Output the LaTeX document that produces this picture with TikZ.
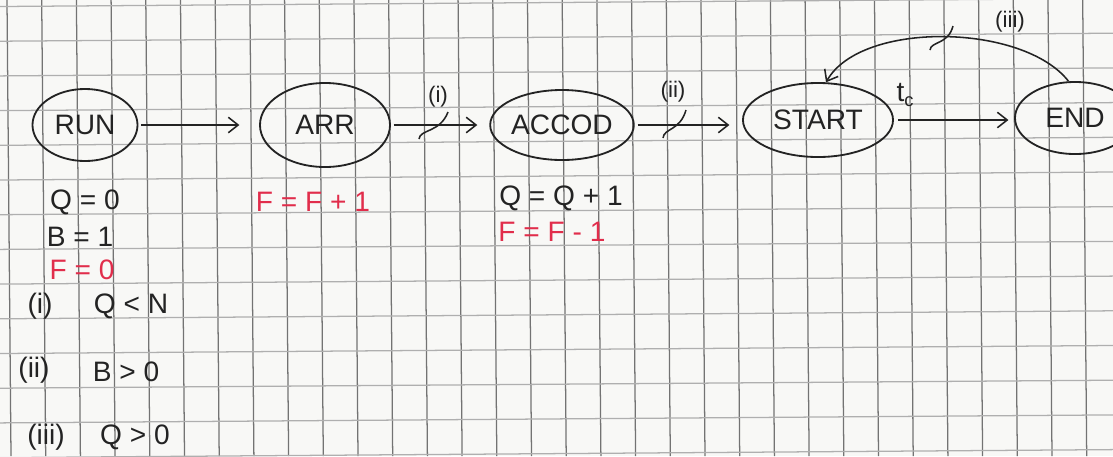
\documentclass[tikz,border=0pt]{standalone}
\usepackage{fontspec}
\setmainfont{Liberation Sans}
\usetikzlibrary{shapes.geometric,arrows.meta}
\definecolor{pen}{RGB}{35,35,35}
\definecolor{redpen}{RGB}{225,45,75}
\definecolor{gridv}{RGB}{115,115,115}
\definecolor{gridh}{RGB}{175,175,175}
\definecolor{paper}{RGB}{248,248,246}
\begin{document}
\begin{tikzpicture}[x=0.025cm,y=-0.025cm,
  state/.style={ellipse,draw=pen,line width=1.3pt,inner sep=0pt,font=\fontsize{20}{24}\selectfont,text=pen},
  arr/.style={draw=pen,line width=1.1pt,-{Straight Barb[length=7pt,width=11pt,line width=1.1pt]}},
  lbl/.style={font=\fontsize{20}{24}\selectfont,text=pen,inner sep=0pt},
  redlbl/.style={lbl,text=redpen},
  cond/.style={font=\fontsize{16}{19}\selectfont,text=pen,inner sep=0pt},
  tick/.style={draw=pen,line width=1.1pt},
  vline/.style={draw=gridv,line width=0.9pt},
  hline/.style={draw=gridh,line width=0.9pt}]
\useasboundingbox (0,0) rectangle (1113,456);
\clip (0,0) rectangle (1113,456);
\fill[paper] (0,0) rectangle (1113,456);
\foreach \gx in {7,41.7,76.4,111.1,145.8,180.5,215.2,249.9,284.6,319.3,354,388.7,423.4,458.1,492.8,527.5,562.2,596.9,631.6,666.3,701,735.7,770.4,805.1,839.8,874.5,909.2,943.9,978.6,1013.3,1048,1082.7}
  {\draw[vline] (\gx,0) -- ({\gx+4},456);}
\foreach \gy in {6.5,41.2,75.9,110.6,145.3,180,214.7,249.4,284.1,318.8,353.5,388.2,422.9,457.6}
  {\draw[hline] (0,\gy) -- (1113,{\gy-8});}

% states
\node[state, minimum width=2.625cm, minimum height=1.8cm] (run) at (85,125) {RUN};
\node[state, minimum width=3.25cm, minimum height=2.1cm] (arr) at (325,125) {ARR};
\node[state, minimum width=3.375cm, minimum height=1.75cm] (accod) at (562,125) {ACCOD};
\node[state, minimum width=3.75cm, minimum height=1.85cm] (start) at (818,120) {START};
\node[state, minimum width=3cm, minimum height=1.8cm] (end) at (1075,118) {END};

% transitions
\draw[arr, shorten <=2pt, shorten >=14pt] (run.east) -- (arr.west);
\draw[arr, shorten <=2pt, shorten >=8.5pt] (arr.east) -- (accod.west);
\draw[arr, shorten <=2pt, shorten >=9pt] (accod.east) -- (start.west |- accod.east);
\draw[arr, shorten <=3pt, shorten >=4pt] (start.east) -- (end.west |- start.east);
\draw[arr] (end.100) .. controls +(-45,-58) and +(35,-62) .. (start.78);

% transition labels
\node[cond] (li) at (438,97) {(i)};
\node[cond] (lii) at (673,92) {(ii)};
\node[cond] (liii) at (1010,22) {(iii)};
\node[lbl] (tc) at (905,95) {t\raisebox{-4pt}{\fontsize{13}{13}\selectfont c}};

% pointer marks
\draw[tick] (419,139) .. controls (420,129) and (440,133) .. (448,112);
\draw[tick] (663,138) .. controls (664,128) and (680,131) .. (686,110);
\draw[tick] (930,50) .. controls (931,41) and (948,45) .. (953,26);

% annotations
\node[lbl] (q0) at (85,202) {Q = 0};
\node[lbl] (b1) at (80,237) {B = 1};
\node[redlbl] (f0) at (82,270) {F = 0};
\node[lbl] (ci) at (40,306) {(i)};
\node[lbl] (cia) at (131,306) {Q < N};
\node[lbl] (cii) at (34,370) {(ii)};
\node[lbl] (ciia) at (126,372) {B > 0};
\node[lbl] (ciii) at (46,437) {(iii)};
\node[lbl] (ciiia) at (135,437) {Q > 0};
\node[redlbl] (finc) at (313,202) {F = F + 1};
\node[lbl] (qinc) at (561,198) {Q = Q + 1};
\node[redlbl] (fdec) at (552,232) {F = F - 1};
\end{tikzpicture}
\end{document}
